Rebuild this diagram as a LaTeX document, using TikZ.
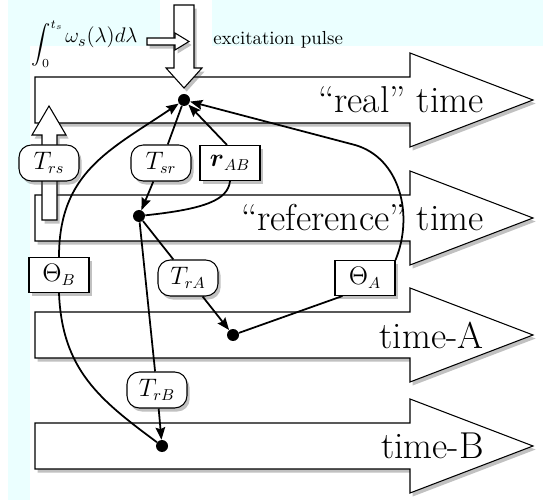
\documentclass[tikz,border=0pt]{standalone}
\usepackage{amsmath}
\usetikzlibrary{shadows,arrows.meta}
\definecolor{bgcyan}{HTML}{EBFFFF}
\begin{document}
\begin{tikzpicture}[x=0.02cm,y=-0.02cm,
  shad/.style={drop shadow={shadow xshift=1.5pt,shadow yshift=-2pt,opacity=0.35,fill=black!70}},
  bigarrow/.style={draw=black,line width=0.6pt,fill=white,shad},
  dot/.style={circle,fill=black,minimum size=0.24cm,inner sep=0pt},
  roundlab/.style={draw=black,line width=0.6pt,fill=white,rounded corners=7pt,minimum width=1.2cm,minimum height=0.72cm,inner sep=0pt,font=\fontsize{13.5}{16}\selectfont,shad},
  sqlab/.style={draw=black,line width=0.6pt,fill=white,minimum width=1.2cm,minimum height=0.7cm,inner sep=0pt,font=\fontsize{13.5}{16}\selectfont,shad},
  bigtext/.style={anchor=east,inner sep=0pt,font=\fontsize{21.3}{25}\selectfont},
  conn/.style={line width=1pt},
  tip/.style={-{Stealth[length=7pt,width=5.5pt,inset=1pt]}}
]
\useasboundingbox (0,0) rectangle (543,502);
% background patches
\fill[bgcyan] (8,0) rectangle (543,46);
\fill[white] (160,0) rectangle (212,46);
\fill[bgcyan] (8,46) rectangle (30,500);

% big time arrows
\foreach \cy in {100,218,335,446}{
  \path[bigarrow] (35,\cy-23) -- (410,\cy-23) -- (410,\cy-47) -- (533,\cy) -- (410,\cy+47) -- (410,\cy+23) -- (35,\cy+23) -- cycle;
}
\node[bigtext] (treal) at (484,100) {``real'' time};
\node[bigtext] (tref) at (484,218) {``reference'' time};
\node[bigtext] (tA) at (484,335) {time-A};
\node[bigtext] (tB) at (484,446) {time-B};

% up arrow (T_rs)
\path[bigarrow] (42,220) -- (42,135) -- (32,135) -- (49,106) -- (66,135) -- (57,135) -- (57,220) -- cycle;

% excitation pulse arrow
\path[bigarrow] (174,5) -- (194,5) -- (194,68) -- (202,68) -- (184,88) -- (166,68) -- (174,68) -- cycle;
\path[bigarrow] (147,38) -- (175,38) -- (175,33) -- (189,41.5) -- (175,50) -- (175,45) -- (147,45) -- cycle;

\node[anchor=base west,inner sep=0pt,font=\fontsize{10.5}{12}\selectfont] (integ) at (31,50) {$\displaystyle\int_0^{t_s}$};
\node[anchor=base west,inner sep=0pt,font=\fontsize{13}{15}\selectfont] (omega) at (65,43) {$\omega_s(\lambda)d\lambda$};
\node[anchor=base west,inner sep=0pt,font=\fontsize{10.75}{13}\selectfont] (exc) at (213,45) {excitation pulse};

% dots
\node[dot] (R) at (184,100) {};
\node[dot] (F) at (139,216) {};
\node[dot] (A) at (233,335) {};
\node[dot] (B) at (162,446) {};

% labels
\node[roundlab] (Trs) at (49,163) {$T_{rs}$};
\node[roundlab] (Tsr) at (161,163) {$T_{sr}$};
\node[sqlab] (rAB) at (230,163) {$\boldsymbol{r}_{AB}$};
\node[sqlab] (ThB) at (59,275) {$\Theta_B$};
\node[roundlab] (TrA) at (188,278) {$T_{rA}$};
\node[sqlab] (ThA) at (365,278) {$\Theta_A$};
\node[roundlab] (TrB) at (157,390) {$T_{rB}$};

% connectors
\draw[conn] (R) -- (Tsr);
\draw[conn,tip] (Tsr) -- (F);
\draw[conn,tip] ([xshift=-0.06cm]rAB.north) -- (R);
\draw[conn] (F) .. controls (205,209) and (228,200) .. (rAB.south);
\draw[conn] (F) -- (TrA);
\draw[conn,tip] (TrA) -- (A);
\draw[conn] (A) -- ([xshift=0.16cm]ThA.south west);
\draw[conn,tip] (ThA.north east) .. controls (414,215) and (400,158) .. (355,145) -- (R);
\draw[conn,tip] (ThB.north) .. controls (59,172) and (110,150) .. (R);
\draw[conn] (ThB.south) .. controls (62,370) and (100,400) .. (B);
\draw[conn] (F) -- (TrB);
\draw[conn,tip] (TrB) -- (B);
\end{tikzpicture}
\end{document}
